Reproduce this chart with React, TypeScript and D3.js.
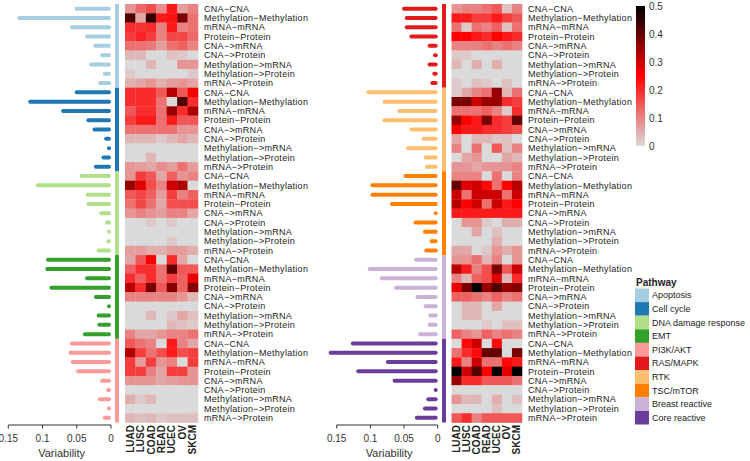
import React from "react";
import * as d3 from "d3";

const interactions = [
  "CNA\u2212CNA",
  "Methylation\u2212Methylation",
  "mRNA\u2212mRNA",
  "Protein\u2212Protein",
  "CNA\u2212>mRNA",
  "CNA\u2212>Protein",
  "Methylation\u2212>mRNA",
  "Methylation\u2212>Protein",
  "mRNA\u2212>Protein",
];
const cancers = ["LUAD", "LUSC", "COAD", "READ", "UCEC", "OV", "SKCM"];

const pathways = [
  "Apoptosis",
  "Cell cycle",
  "DNA damage response",
  "EMT",
  "PI3K/AKT",
  "RAS/MAPK",
  "RTK",
  "TSC/mTOR",
  "Breast reactive",
  "Core reactive",
];
const pathwayColors = [
  "#a6cee3", "#1f78b4", "#b2df8a", "#33a02c", "#fb9a99",
  "#e31a1c", "#fdbf6f", "#ff7f00", "#cab2d6", "#6a3d9a",
];

// variability per pathway (9 interactions each)
const variabilityLeft = [
  [0.053, 0.137, 0.060, 0.038, 0.026, 0.016, 0.032, 0.012, 0.019],
  [0.053, 0.121, 0.073, 0.036, 0.027, 0.010, 0.004, 0.014, 0.025],
  [0.046, 0.110, 0.037, 0.036, 0.017, 0.009, 0.003, 0.007, 0.021],
  [0.095, 0.096, 0.038, 0.090, 0.025, 0.002, 0.021, 0.020, 0.041],
  [0.060, 0.062, 0.059, 0.051, 0.016, 0.007, 0.019, 0.003, 0.012],
];
const variabilityRight = [
  [0.053, 0.049, 0.049, 0.042, 0.015, 0.007, 0.015, 0.008, 0.011],
  [0.106, 0.082, 0.060, 0.082, 0.042, 0.024, 0.047, 0.021, 0.019],
  [0.051, 0.100, 0.100, 0.071, 0.002, 0.036, 0.022, 0.012, 0.020],
  [0.035, 0.104, 0.086, 0.065, 0.033, 0.021, 0.014, 0.015, 0.029],
  [0.129, 0.162, 0.077, 0.121, 0.067, 0.002, 0.017, 0.022, 0.034],
];

// heatmap values: pathway -> interaction -> cancer
const heatLeft = [
  [
    [0.08, 0.13, 0.16, 0.09, 0.22, 0.07, 0.10],
    [0.42, 0.06, 0.45, 0.22, 0.23, 0.38, 0.12],
    [0.20, 0.19, 0.20, 0.10, 0.22, 0.10, 0.12],
    [0.18, 0.21, 0.18, 0.10, 0.17, 0.17, 0.13],
    [0.12, 0.12, 0.11, 0.07, 0.12, 0.14, 0.10],
    [0.04, 0.04, 0.00, 0.00, 0.03, 0.02, 0.00],
    [0.00, 0.00, 0.04, 0.00, 0.00, 0.08, 0.08],
    [0.02, 0.00, 0.00, 0.00, 0.00, 0.00, 0.02],
    [0.05, 0.06, 0.08, 0.05, 0.07, 0.08, 0.06],
  ],
  [
    [0.20, 0.20, 0.20, 0.15, 0.32, 0.15, 0.26],
    [0.20, 0.20, 0.20, 0.12, 0.00, 0.42, 0.20],
    [0.15, 0.20, 0.20, 0.12, 0.35, 0.20, 0.33],
    [0.18, 0.22, 0.22, 0.12, 0.22, 0.15, 0.15],
    [0.12, 0.12, 0.12, 0.12, 0.12, 0.08, 0.08],
    [0.04, 0.04, 0.04, 0.02, 0.04, 0.06, 0.04],
    [0.00, 0.00, 0.00, 0.00, 0.00, 0.00, 0.00],
    [0.00, 0.00, 0.04, 0.00, 0.00, 0.00, 0.00],
    [0.08, 0.07, 0.06, 0.09, 0.07, 0.12, 0.07],
  ],
  [
    [0.08, 0.18, 0.15, 0.06, 0.14, 0.08, 0.10],
    [0.35, 0.28, 0.16, 0.10, 0.30, 0.33, 0.00],
    [0.15, 0.17, 0.14, 0.07, 0.18, 0.10, 0.14],
    [0.12, 0.17, 0.12, 0.06, 0.16, 0.16, 0.16],
    [0.08, 0.10, 0.08, 0.07, 0.10, 0.10, 0.06],
    [0.00, 0.00, 0.02, 0.00, 0.02, 0.00, 0.00],
    [0.00, 0.00, 0.00, 0.00, 0.00, 0.00, 0.00],
    [0.00, 0.00, 0.00, 0.00, 0.02, 0.00, 0.00],
    [0.07, 0.07, 0.05, 0.05, 0.07, 0.07, 0.05],
  ],
  [
    [0.06, 0.15, 0.26, 0.00, 0.20, 0.06, 0.00],
    [0.14, 0.20, 0.20, 0.12, 0.40, 0.15, 0.15],
    [0.20, 0.14, 0.20, 0.12, 0.18, 0.14, 0.27],
    [0.32, 0.20, 0.38, 0.15, 0.37, 0.14, 0.37],
    [0.10, 0.10, 0.10, 0.10, 0.10, 0.08, 0.04],
    [0.00, 0.00, 0.00, 0.00, 0.00, 0.00, 0.00],
    [0.00, 0.00, 0.04, 0.00, 0.02, 0.06, 0.03],
    [0.00, 0.00, 0.00, 0.00, 0.04, 0.03, 0.02],
    [0.10, 0.06, 0.06, 0.08, 0.10, 0.10, 0.12],
  ],
  [
    [0.15, 0.12, 0.10, 0.00, 0.22, 0.10, 0.06],
    [0.33, 0.18, 0.12, 0.16, 0.22, 0.16, 0.18],
    [0.18, 0.07, 0.18, 0.08, 0.10, 0.00, 0.18],
    [0.18, 0.18, 0.10, 0.06, 0.18, 0.18, 0.08],
    [0.08, 0.08, 0.08, 0.06, 0.07, 0.08, 0.08],
    [0.00, 0.00, 0.00, 0.00, 0.00, 0.00, 0.00],
    [0.05, 0.02, 0.04, 0.00, 0.00, 0.00, 0.00],
    [0.00, 0.00, 0.00, 0.00, 0.00, 0.00, 0.00],
    [0.04, 0.03, 0.04, 0.02, 0.03, 0.03, 0.03],
  ],
];
const heatRight = [
  [
    [0.08, 0.10, 0.10, 0.12, 0.15, 0.03, 0.10],
    [0.22, 0.22, 0.18, 0.18, 0.22, 0.18, 0.15],
    [0.12, 0.02, 0.12, 0.10, 0.14, 0.03, 0.12],
    [0.25, 0.25, 0.22, 0.20, 0.25, 0.22, 0.20],
    [0.10, 0.10, 0.10, 0.12, 0.10, 0.12, 0.10],
    [0.02, 0.02, 0.00, 0.00, 0.00, 0.00, 0.00],
    [0.04, 0.00, 0.05, 0.00, 0.05, 0.00, 0.00],
    [0.00, 0.00, 0.00, 0.00, 0.00, 0.00, 0.00],
    [0.02, 0.00, 0.03, 0.02, 0.00, 0.03, 0.00],
  ],
  [
    [0.02, 0.06, 0.10, 0.12, 0.35, 0.04, 0.12],
    [0.38, 0.38, 0.30, 0.35, 0.35, 0.20, 0.18],
    [0.12, 0.12, 0.12, 0.14, 0.10, 0.02, 0.20],
    [0.35, 0.25, 0.22, 0.38, 0.20, 0.18, 0.40],
    [0.25, 0.22, 0.22, 0.20, 0.20, 0.18, 0.16],
    [0.06, 0.00, 0.04, 0.04, 0.02, 0.03, 0.00],
    [0.10, 0.00, 0.12, 0.00, 0.15, 0.03, 0.10],
    [0.00, 0.06, 0.08, 0.00, 0.00, 0.06, 0.04],
    [0.08, 0.08, 0.06, 0.08, 0.08, 0.08, 0.10],
  ],
  [
    [0.10, 0.10, 0.10, 0.00, 0.12, 0.00, 0.10],
    [0.40, 0.28, 0.30, 0.24, 0.12, 0.25, 0.32],
    [0.30, 0.12, 0.30, 0.30, 0.30, 0.12, 0.30],
    [0.32, 0.25, 0.30, 0.12, 0.30, 0.22, 0.25],
    [0.22, 0.22, 0.22, 0.22, 0.22, 0.22, 0.22],
    [0.00, 0.08, 0.08, 0.02, 0.00, 0.05, 0.05],
    [0.00, 0.00, 0.06, 0.00, 0.03, 0.00, 0.00],
    [0.00, 0.00, 0.00, 0.00, 0.05, 0.00, 0.00],
    [0.06, 0.06, 0.00, 0.02, 0.08, 0.05, 0.08],
  ],
  [
    [0.08, 0.08, 0.12, 0.04, 0.10, 0.00, 0.08],
    [0.32, 0.22, 0.10, 0.16, 0.38, 0.15, 0.30],
    [0.10, 0.04, 0.14, 0.16, 0.28, 0.04, 0.20],
    [0.27, 0.38, 0.50, 0.35, 0.42, 0.35, 0.37],
    [0.14, 0.14, 0.12, 0.10, 0.14, 0.10, 0.12],
    [0.00, 0.04, 0.04, 0.00, 0.06, 0.00, 0.00],
    [0.00, 0.04, 0.04, 0.00, 0.00, 0.00, 0.00],
    [0.00, 0.00, 0.00, 0.02, 0.00, 0.03, 0.03],
    [0.14, 0.10, 0.08, 0.14, 0.10, 0.12, 0.10],
  ],
  [
    [0.00, 0.24, 0.30, 0.00, 0.24, 0.00, 0.00],
    [0.12, 0.20, 0.24, 0.40, 0.40, 0.00, 0.38],
    [0.22, 0.10, 0.30, 0.12, 0.12, 0.24, 0.22],
    [0.50, 0.30, 0.42, 0.25, 0.50, 0.28, 0.50],
    [0.35, 0.20, 0.20, 0.15, 0.15, 0.15, 0.12],
    [0.00, 0.00, 0.00, 0.00, 0.00, 0.00, 0.00],
    [0.08, 0.04, 0.04, 0.00, 0.05, 0.00, 0.03],
    [0.00, 0.00, 0.00, 0.00, 0.03, 0.00, 0.00],
    [0.15, 0.20, 0.10, 0.15, 0.15, 0.15, 0.15],
  ],
];

const varTicks = [0, 0.05, 0.1, 0.15];
const colorTicks = [0, 0.1, 0.2, 0.3, 0.4, 0.5];

const FONT = "'Liberation Sans', Arial, Helvetica, sans-serif";
const TOP = 4;
const BOTTOM = 422.5;

const color = d3
  .scaleLinear<string>()
  .domain([0, 0.25, 0.5])
  .range(["#dadada", "#ff0000", "#000000"])
  .clamp(true);

const rowScale = d3
  .scaleBand<number>()
  .domain(d3.range(45))
  .range([TOP, BOTTOM]);

type PanelProps = {
  pathwayOffset: number;
  variability: number[][];
  heat: number[][][];
  barX: [number, number];
  stripX: number;
  heatX: [number, number];
  labelX: number;
};

function Panel(p: PanelProps) {
  const x = d3.scaleLinear().domain([0, 0.15]).range(p.barX);
  const col = d3.scaleBand<string>().domain(cancers).range(p.heatX);
  const rh = rowScale.bandwidth();
  const x0 = x(0);
  const axisY = 425;
  const items: React.ReactNode[] = [];
  p.variability.forEach((vals, pi) => {
    const c = pathwayColors[p.pathwayOffset + pi];
    const y0 = rowScale(pi * 9)!;
    items.push(
      <rect key={`s${pi}`} x={p.stripX} y={y0} width={4} height={rh * 9} fill={c} />
    );
    vals.forEach((v, ii) => {
      const r = pi * 9 + ii;
      const cy = rowScale(r)! + rh / 2;
      const x1 = Math.min(x(v) + 2, x0 - 2);
      items.push(
        <line
          key={`b${r}`}
          x1={x1}
          x2={x0 - 2}
          y1={cy}
          y2={cy}
          stroke={c}
          strokeWidth={4}
          strokeLinecap="round"
        />
      );
      p.heat[pi][ii].forEach((h, ci) => {
        items.push(
          <rect
            key={`h${r}_${ci}`}
            x={col(cancers[ci])!}
            y={rowScale(r)!}
            width={col.bandwidth() + 0.3}
            height={rh + 0.3}
            fill={color(h)}
          />
        );
      });
      items.push(
        <text
          key={`l${r}`}
          x={p.labelX}
          y={cy}
          dy="0.35em"
          fontSize={9}
          letterSpacing={0.3}
          fill="#222"
        >
          {interactions[ii]}
        </text>
      );
    });
  });
  return (
    <g fontFamily={FONT}>
      {items}
      <line x1={x(0.15)} x2={x0} y1={axisY} y2={axisY} stroke="#333" strokeWidth={1} />
      {varTicks.map((t) => (
        <g key={t} transform={`translate(${x(t)},${axisY})`}>
          <line y2={3.5} stroke="#333" />
          <text y={13} dy="0.35em" textAnchor="middle" fontSize={10} fill="#333">
            {String(t)}
          </text>
        </g>
      ))}
      <text
        x={(x(0.15) + x0) / 2 + 2}
        y={453}
        dy="0.35em"
        textAnchor="middle"
        fontSize={11}
        fill="#333"
      >
        Variability
      </text>
      {cancers.map((cn) => (
        <text
          key={cn}
          transform={`translate(${col(cn)! + col.bandwidth() / 2},425) rotate(-90)`}
          textAnchor="end"
          dy="0.35em"
          fontSize={10}
          fontWeight="bold"
          fill="#222"
        >
          {cn}
        </text>
      ))}
    </g>
  );
}

export default function App() {
  const cbY = d3.scaleLinear().domain([0, 0.5]).range([146, 6]);
  const stops = d3.range(0, 1.0001, 0.05);
  return (
    <svg
      width={750}
      height={461}
      style={{ position: "absolute", left: 0, top: 0, background: "#fff" }}
    >
      <defs>
        <linearGradient id="cb" x1="0" y1="1" x2="0" y2="0">
          {stops.map((s) => (
            <stop key={s} offset={s} stopColor={color(s * 0.5)} />
          ))}
        </linearGradient>
      </defs>
      <Panel
        pathwayOffset={0}
        variability={variabilityLeft}
        heat={heatLeft}
        barX={[111, 8.3]}
        stripX={115}
        heatX={[125, 198]}
        labelX={204}
      />
      <Panel
        pathwayOffset={5}
        variability={variabilityRight}
        heat={heatRight}
        barX={[437.7, 336.7]}
        stripX={442}
        heatX={[451.5, 522]}
        labelX={528}
      />
      <g fontFamily={FONT}>
        <rect x={636} y={cbY(0.5)} width={9} height={cbY(0) - cbY(0.5)} fill="url(#cb)" />
        {colorTicks.map((t) => (
          <text key={t} x={649} y={cbY(t)} dy="0.35em" fontSize={10} fill="#333">
            {String(t)}
          </text>
        ))}
        <text x={636} y={282} dy="0.35em" fontSize={10} fontWeight="bold" fill="#222">
          Pathway
        </text>
        {pathways.map((pw, i) => (
          <g key={pw}>
            <rect x={635} y={288.5 + i * 13.6} width={14} height={13.6} fill={pathwayColors[i]} />
            <text x={652} y={288.5 + i * 13.6 + 6.8} dy="0.35em" fontSize={9} fill="#222">
              {pw}
            </text>
          </g>
        ))}
      </g>
    </svg>
  );
}
